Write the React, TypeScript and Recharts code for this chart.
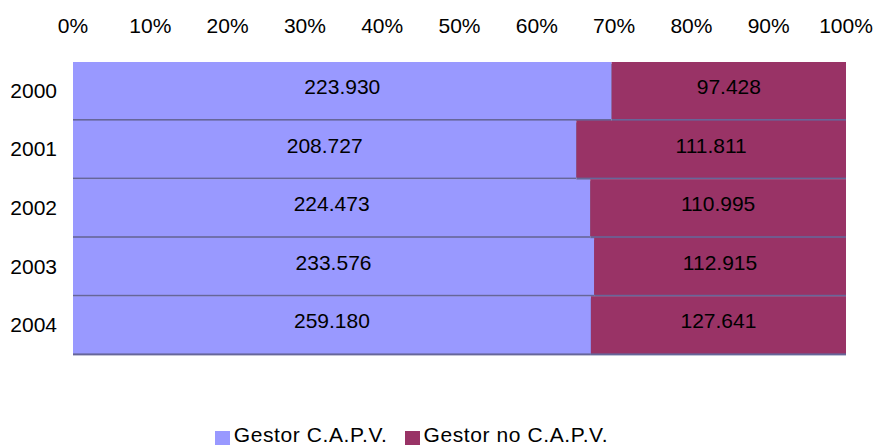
import { BarChart, Bar, XAxis, YAxis, Legend, LabelList } from 'recharts'

const years = ['2000', '2001', '2002', '2003', '2004']
const capv = [223930, 208727, 224473, 233576, 259180]
const noCapv = [97428, 111811, 110995, 112915, 127641]
const pctTicks = [0, 0.1, 0.2, 0.3, 0.4, 0.5, 0.6, 0.7, 0.8, 0.9, 1]

const FONT = '"Liberation Sans", Arial, sans-serif'
const BLUE = '#9999FF'
const MAROON = '#993366'
const SHADOW = '#666699'

const data = years.map((year, i) => ({ year, capv: capv[i], noCapv: noCapv[i] }))

// Spanish style thousands separator: 223930 -> 223.930
const fmt = (v: number) => String(v).replace(/\B(?=(\d{3})+(?!\d))/g, '.')

const ShadowBar = (props: any) => {
  const { x, y, width, height, fill } = props
  if (!width || !height) return null
  return (
    <g>
      <rect x={x} y={y + 2} width={width} height={height} fill={SHADOW} />
      <rect x={x} y={y} width={width} height={height} fill={fill} />
    </g>
  )
}

const renderLabel = (props: any) => {
  const { x, y, width, height, value } = props
  return (
    <text
      x={x + width / 2}
      y={y + height / 2 - 4}
      dy="0.355em"
      textAnchor="middle"
      fill="#000"
      fontSize={21}
      fontFamily={FONT}
    >
      {fmt(value)}
    </text>
  )
}

const LegendContent = () => {
  const items = [
    { label: 'Gestor C.A.P.V.', color: BLUE },
    { label: 'Gestor no C.A.P.V.', color: MAROON },
  ]
  return (
    <div
      style={{
        height: 93,
        display: 'flex',
        alignItems: 'flex-end',
        justifyContent: 'center',
        paddingRight: 23,
        paddingBottom: 1,
        boxSizing: 'border-box',
        fontFamily: FONT,
        fontSize: 21,
        letterSpacing: 0.6,
        lineHeight: '22px',
        color: '#000',
      }}
    >
      {items.map((it, i) => (
        <div key={it.label} style={{ display: 'flex', alignItems: 'flex-end', marginLeft: i ? 17 : 0 }}>
          <span style={{ width: 15, height: 14, background: it.color, marginRight: 4, marginBottom: 1 }} />
          <span>{it.label}</span>
        </div>
      ))}
    </div>
  )
}

export default function App() {
  return (
    <>
      <style>{'body{margin:0}'}</style>
      <BarChart
        width={874}
        height={447}
        data={data}
        layout="vertical"
        stackOffset="expand"
        barCategoryGap={1}
        margin={{ top: 13, right: 28, bottom: 0, left: 0 }}
      >
        <XAxis
          type="number"
          orientation="top"
          domain={[0, 1]}
          ticks={pctTicks}
          tickFormatter={(v: number) => Math.round(v * 100) + '%'}
          axisLine={false}
          tickLine={false}
          tickSize={0}
          tickMargin={28}
          height={48}
          interval={0}
          tick={{ fill: '#000', fontSize: 21, fontFamily: FONT }}
        />
        <YAxis
          type="category"
          dataKey="year"
          width={73}
          axisLine={false}
          tickLine={false}
          tickSize={0}
          tickMargin={16}
          tick={{ fill: '#000', fontSize: 21, fontFamily: FONT }}
        />
        <Legend verticalAlign="bottom" height={93} content={<LegendContent />} />
        <Bar dataKey="capv" stackId="a" fill={BLUE} shape={ShadowBar} isAnimationActive={false}>
          <LabelList dataKey="capv" content={renderLabel} />
        </Bar>
        <Bar dataKey="noCapv" stackId="a" fill={MAROON} shape={ShadowBar} isAnimationActive={false}>
          <LabelList dataKey="noCapv" content={renderLabel} />
        </Bar>
      </BarChart>
    </>
  )
}
